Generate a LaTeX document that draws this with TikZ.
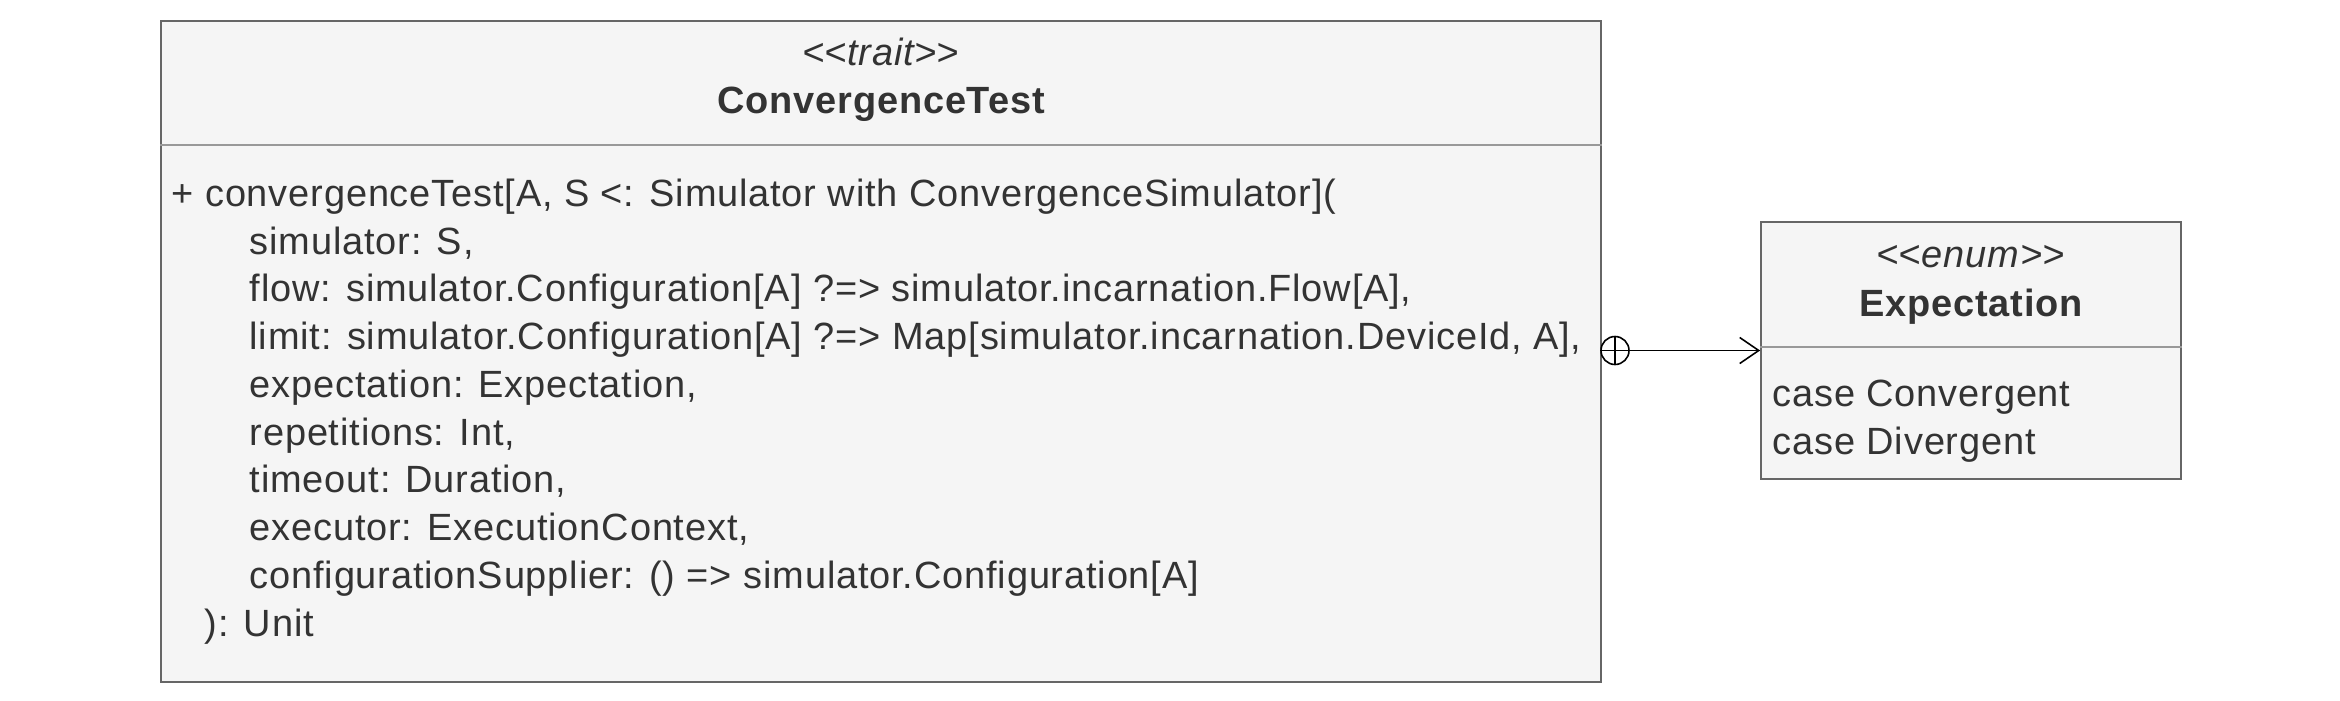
\documentclass[tikz,border=0pt]{standalone}
\usepackage{fontspec}
\setmainfont{Liberation Sans}[LetterSpace=2.2]
\usetikzlibrary{arrows.meta}
\definecolor{boxfill}{HTML}{F5F5F5}
\definecolor{boxline}{HTML}{666666}
\definecolor{sepline}{HTML}{999999}
\definecolor{umltext}{HTML}{333333}
\newcommand{\umlfont}{\fontsize{10.8}{13.58}\selectfont}
\newcommand{\stereotype}[1]{\textit{<\kern0pt<#1>\kern0pt>}}

\begin{document}
\begin{tikzpicture}[>={Straight Barb[length=1.9mm,width=2.6mm]},
  umlbox/.style={draw=boxline,fill=boxfill,line width=0.5pt,inner sep=0},
  umllabel/.style={inner sep=0,anchor=base,text=umltext,font=\umlfont},
  umlbody/.style={inner sep=0,anchor=base west,text=umltext,font=\umlfont}]
  \useasboundingbox (0,0) rectangle (23.4,7);
  % Left: the trait with its one operation
  \node[umlbox,minimum width=14.4cm,minimum height=6.61cm] (trait) at (8.81,3.485) {};
  \draw[sepline,line width=0.5pt] (trait.west |- 0,5.55) -- (trait.east |- 0,5.55);
  \node[umllabel] (traitst) at (8.81,6.35) {\stereotype{trait}};
  \node[umllabel,font=\umlfont\bfseries] (traitname) at (8.81,5.865) {ConvergenceTest};
  \node[umlbody] (traitops) at (1.71,4.935) {\begin{tabular}[t]{@{}l@{}}
    + convergenceTest[A, S <: Simulator with ConvergenceSimulator](\\
    \hspace*{0.78cm}simulator: S,\\
    \hspace*{0.78cm}flow: simulator.Configuration[A] ?=> simulator.incarnation.Flow[A],\\
    \hspace*{0.78cm}limit: simulator.Configuration[A] ?=> Map[simulator.incarnation.DeviceId, A],\\
    \hspace*{0.78cm}expectation: Expectation,\\
    \hspace*{0.78cm}repetitions: Int,\\
    \hspace*{0.78cm}timeout: Duration,\\
    \hspace*{0.78cm}executor: ExecutionContext,\\
    \hspace*{0.78cm}configurationSupplier: () => simulator.Configuration[A]\\
    \hspace*{0.33cm}): Unit
  \end{tabular}};
  % Right: the nested enum
  \node[umlbox,minimum width=4.2cm,minimum height=2.57cm] (expect) at (19.71,3.495) {};
  \draw[sepline,line width=0.5pt] (expect.west |- 0,3.53) -- (expect.east |- 0,3.53);
  \node[umllabel] (expectst) at (19.71,4.33) {\stereotype{enum}};
  \node[umllabel,font=\umlfont\bfseries] (expectname) at (19.71,3.835) {Expectation};
  \node[umlbody] (expectcases) at (17.72,2.935) {\begin{tabular}[t]{@{}l@{}}
    case Convergent\\
    case Divergent
  \end{tabular}};
  % Nesting: circled plus on the owner, open arrow to the inner type
  \node[circle,draw,line width=0.45pt,minimum size=2.8mm,inner sep=0] (nest) at (16.15,3.495) {};
  \draw[line width=0.45pt] (nest.north) -- (nest.south) (nest.west) -- (nest.east);
  \draw[->,line width=0.45pt] (nest.east) -- (expect.west);
\end{tikzpicture}
\end{document}
